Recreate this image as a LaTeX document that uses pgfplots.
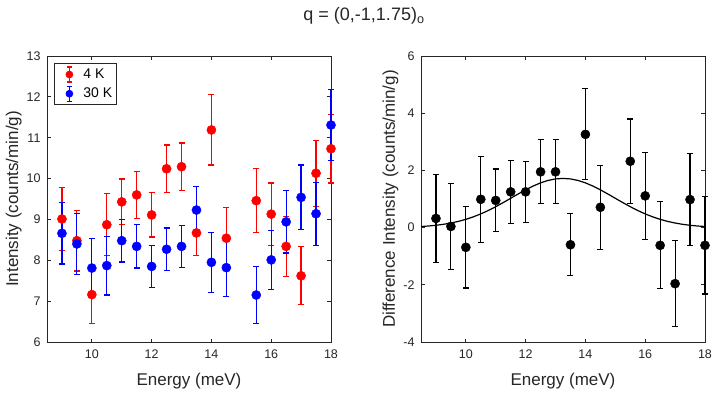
\documentclass[border=0pt]{standalone}
\usepackage{fontspec}
\setmainfont{Liberation Sans}
\usepackage{pgfplots}
\pgfplotsset{compat=1.18}
\usepackage{pgfplotstable}

\definecolor{axgray}{gray}{0.15}

% 4 K
\pgfplotstableread{
x    y     e
9    9.01  0.77
9.5  8.48  0.74
10   7.16  0.70
10.5 8.87  0.76
11   9.43  0.56
11.5 9.60  0.57
12   9.11  0.54
12.5 10.24 0.58
13   10.29 0.58
13.5 8.67  0.55
14   11.19 0.86
14.5 8.54  0.75
15.5 9.46  0.78
16   9.13  0.76
16.5 8.34  0.74
17   7.62  0.71
17.5 10.13 0.81
18   10.73 0.84
}\lowT

% 30 K
\pgfplotstableread{
x    y     e
9    8.66  0.75
9.5  8.40  0.75
10   7.81  0.73
10.5 7.87  0.72
11   8.48  0.52
11.5 8.34  0.53
12   7.85  0.51
12.5 8.27  0.52
13   8.34  0.52
13.5 9.23  0.58
14   7.95  0.73
14.5 7.82  0.71
15.5 7.15  0.69
16   8.01  0.72
16.5 8.94  0.76
17   9.54  0.79
17.5 9.14  0.77
18   11.31 0.87
}\highT

% difference
\pgfplotstableread{
x    y     e
9    0.32  1.55
9.5  0.04  1.51
10   -0.69 1.42
10.5 0.99  1.50
11   0.95  1.10
11.5 1.25  1.10
12   1.25  1.07
12.5 1.95  1.12
13   1.95  1.12
13.5 -0.60 1.08
14   3.26  1.59
14.5 0.71  1.47
15.5 2.32  1.48
16   1.11  1.52
16.5 -0.62 1.52
17   -1.96 1.51
17.5 0.98  1.60
18   -0.62 1.70
}\diffT

\pgfplotsset{
  panel/.style={
    scale only axis, width=284pt, height=286pt,
    xmin=8.5, xmax=18,
    axis line style={axgray, line width=0.8pt},
    tick style={axgray, line width=0.8pt},
    major tick length=3.5pt,
    tick align=inside,
    xtick={10,12,14,16,18},
    ticklabel style={font=\fontsize{12.5}{14}\selectfont, text=axgray},
    xticklabel style={yshift=-4pt},
    yticklabel style={xshift=-3pt},
    label style={font=\fontsize{17}{20}\selectfont, text=axgray},
    xlabel style={at={(axis description cs:0.5,0)}, anchor=center, yshift=-39pt},
    ylabel style={yshift=-2pt},
    /pgf/number format/assume math mode=true,
    clip=false,
    xlabel={Energy (meV)},
  },
}

\begin{document}
\begin{tikzpicture}
\useasboundingbox (0pt,0pt) rectangle (718pt,-393pt);

\node[font=\fontsize{18}{21}\selectfont, text=axgray] at (364pt,-16pt) {q = (0,-1,1.75)\textsubscript{o}};

\begin{axis}[panel,
    at={(47pt,-342pt)}, anchor=south west,
    ymin=6, ymax=13, ytick={6,7,...,13},
    ylabel={Intensity (counts/min/g)},
    legend style={at={(0,1)}, anchor=north west, xshift=7pt, yshift=-7pt,
      draw=axgray, line width=0.8pt, font=\fontsize{14}{16}\selectfont,
      inner xsep=2pt, inner ysep=3pt, row sep=3pt},
    legend cell align=left,
]
\addplot[only marks, mark=*, mark size=4.6pt, color=red,
    legend image code/.code={
      \path[draw=none, fill=none] (0pt,0pt) rectangle (25pt,1pt);
      \draw[red, line width=1.2pt] (13pt,-7.5pt) -- (13pt,7.5pt);
      \draw[red, line width=1.2pt] (10.5pt,-7.5pt) -- (15.5pt,-7.5pt);
      \draw[red, line width=1.2pt] (10.5pt,7.5pt) -- (15.5pt,7.5pt);
      \fill[red] (13pt,0pt) circle (3.4pt);},
    error bars/.cd, y dir=both, y explicit,
    error bar style={line width=1.2pt, red},
    error mark options={rotate=90, mark size=3pt, line width=1.2pt, red}]
  table[x=x, y=y, y error=e] {\lowT};
\addlegendentry{4 K}
\addplot[only marks, mark=*, mark size=4.6pt, color=blue,
    legend image code/.code={
      \path[draw=none, fill=none] (0pt,0pt) rectangle (25pt,1pt);
      \draw[blue, line width=1.2pt] (13pt,-7.5pt) -- (13pt,7.5pt);
      \draw[blue, line width=1.2pt] (10.5pt,-7.5pt) -- (15.5pt,-7.5pt);
      \draw[blue, line width=1.2pt] (10.5pt,7.5pt) -- (15.5pt,7.5pt);
      \fill[blue] (13pt,0pt) circle (3.4pt);},
    error bars/.cd, y dir=both, y explicit,
    error bar style={line width=1.2pt, blue},
    error mark options={rotate=90, mark size=3pt, line width=1.2pt, blue}]
  table[x=x, y=y, y error=e] {\highT};
\addlegendentry{30 K}
\end{axis}

\begin{axis}[panel,
    at={(421pt,-342pt)}, anchor=south west,
    ymin=-4, ymax=6, ytick={-4,-2,...,6},
    ylabel={Difference Intensity (counts/min/g)},
]
\addplot[only marks, mark=*, mark size=4.6pt, color=black,
    error bars/.cd, y dir=both, y explicit,
    error bar style={line width=1.2pt, black},
    error mark options={rotate=90, mark size=3pt, line width=1.2pt, black}]
  table[x=x, y=y, y error=e] {\diffT};
% Gaussian fit
\addplot[black, line width=1.2pt] coordinates {
(8.5,0.038) (8.75,0.056) (9,0.081) (9.25,0.115) (9.5,0.160) (9.75,0.217)
(10,0.289) (10.25,0.376) (10.5,0.479) (10.75,0.598) (11,0.731) (11.25,0.875)
(11.5,1.025) (11.75,1.176) (12,1.321) (12.25,1.453) (12.5,1.564) (12.75,1.649)
(13,1.702) (13.25,1.720) (13.5,1.702) (13.75,1.649) (14,1.564) (14.25,1.453)
(14.5,1.321) (14.75,1.176) (15,1.025) (15.25,0.875) (15.5,0.731) (15.75,0.598)
(16,0.479) (16.25,0.376) (16.5,0.289) (16.75,0.217) (17,0.160) (17.25,0.115)
(17.5,0.081) (17.75,0.056) (18,0.038)};
\end{axis}
\end{tikzpicture}
\end{document}
